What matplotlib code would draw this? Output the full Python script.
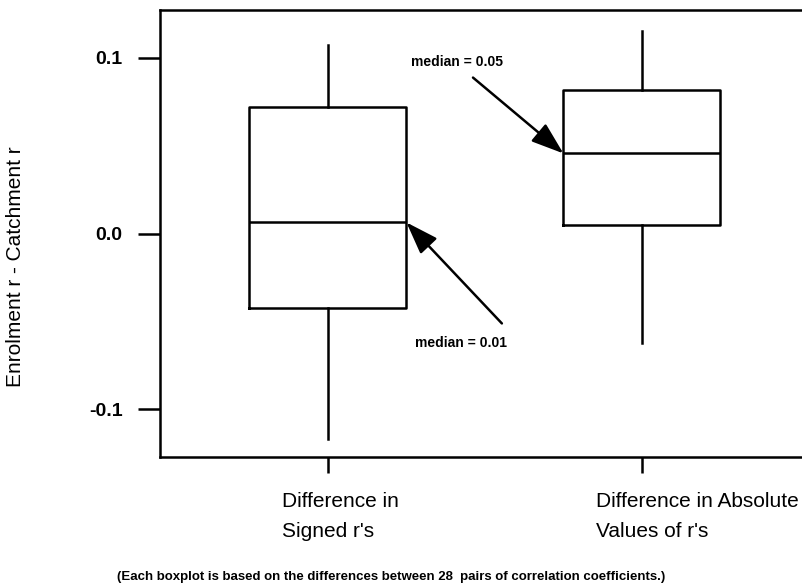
import matplotlib
matplotlib.use("Agg")
import matplotlib.pyplot as plt
import matplotlib.transforms as mtransforms

plt.rcParams['font.family'] = ['Liberation Sans', 'DejaVu Sans']

categories = ["Difference in\nSigned r's", "Difference in Absolute\nValues of r's"]
whislo = [-0.1165, -0.062]
q1 = [-0.0426, 0.0051]
medians = [0.0063, 0.0455]
q3 = [0.0716, 0.0818]
whishi = [0.107, 0.1148]
yticks = [-0.1, 0.0, 0.1]
yticklabels = ["-0.1", "0.0", "0.1"]
median_labels = ["median = 0.01", "median = 0.05"]
caption = "(Each boxplot is based on the differences between 28  pairs of correlation coefficients.)"
ylabel = "Enrolment r - Catchment r"

fig = plt.figure(figsize=(8.02, 5.84), dpi=100)
ax = fig.add_axes([160/802, 1-457/584, 1-160/802, (457-10)/584])

stats = []
for i in range(len(categories)):
    stats.append(dict(whislo=whislo[i], q1=q1[i], med=medians[i], q3=q3[i],
                      whishi=whishi[i], fliers=[], label=categories[i]))
positions = [1, 2]
lw = 1.8
ax.bxp(stats, positions=positions, widths=0.5, showcaps=False, showfliers=False,
       boxprops=dict(color='black', linewidth=lw),
       whiskerprops=dict(color='black', linewidth=lw),
       medianprops=dict(color='black', linewidth=lw))

ax.set_xlim(0.465, 2.51)
ax.set_ylim(-0.127, 0.127)
ax.set_yticks(yticks)
ax.set_yticklabels(yticklabels, fontsize=14, fontweight='bold')
ax.set_xticks(positions)
ax.set_xticklabels([])

# category labels, left-aligned, shifted left of each tick
trans = mtransforms.blended_transform_factory(ax.transData, ax.transAxes)
for pos, lab in zip(positions, categories):
    ax.annotate(lab, xy=(pos, 0), xycoords=trans, xytext=(-46, -35), textcoords='offset pixels',
                ha='left', va='top', fontsize=15, linespacing=1.75, annotation_clip=False)

ax.tick_params(axis='y', length=16, width=lw, pad=11)
ax.tick_params(axis='x', length=11.5, width=lw)
for s in ['left', 'top', 'bottom']:
    ax.spines[s].set_linewidth(lw)
ax.spines['right'].set_visible(False)

fig.text(16/802, 1-267/584, ylabel, rotation=90, ha='center', va='center', fontsize=15)

arrow_style = dict(arrowstyle='-|>,head_length=2.0,head_width=0.7', color='black',
                   linewidth=lw, shrinkA=0, shrinkB=0)
# median annotations
ax.text(1.411, 0.0977, median_labels[1], fontsize=10, fontweight='bold', ha='center', va='center')
ax.annotate("", xy=(2 - 0.25, medians[1]), xytext=(1.462, 0.0886), arrowprops=arrow_style)
ax.text(1.424, -0.062, median_labels[0], fontsize=10, fontweight='bold', ha='center', va='center')
ax.annotate("", xy=(1 + 0.25, medians[0]), xytext=(1.554, -0.0511), arrowprops=arrow_style)

fig.text(391/802, 1-577/584, caption, ha='center', va='center', fontsize=9.5, fontweight='bold')

fig.savefig("out.png", dpi=100)
